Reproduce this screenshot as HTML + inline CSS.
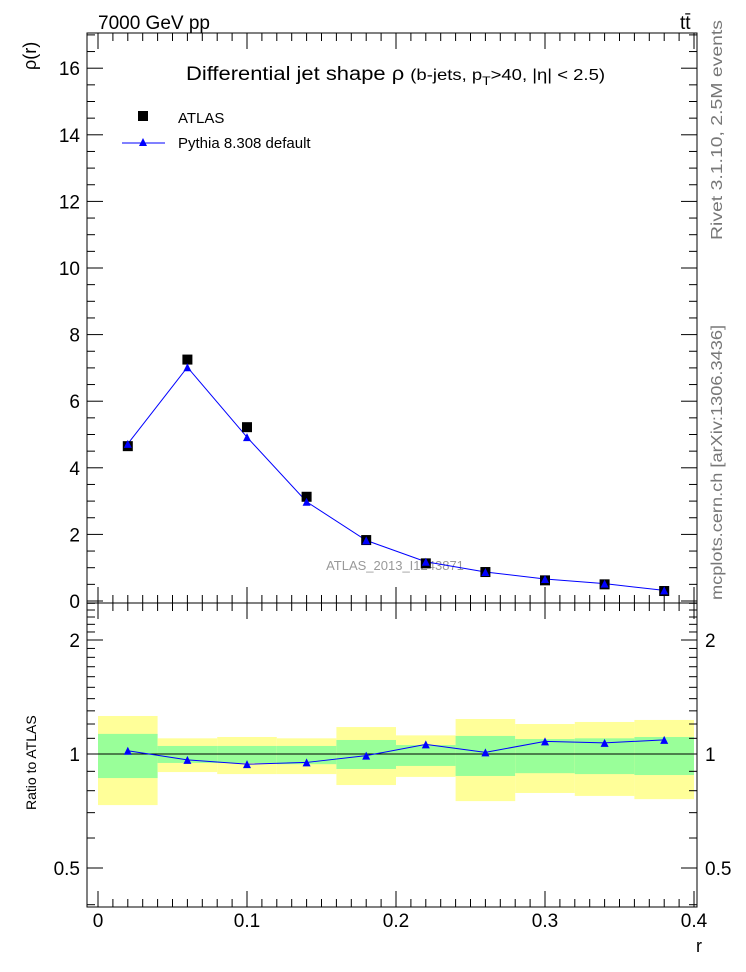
<!DOCTYPE html>
<html><head><meta charset="utf-8"><style>
body{margin:0;background:#fff;}
svg{font-family:"Liberation Sans",sans-serif;display:block;}
</style></head><body>
<svg id="c" width="746" height="972" viewBox="0 0 746 972">
<text x="98" y="29" font-size="19">7000 GeV pp</text>
<text x="680" y="29" font-size="19">tt̄</text>
<text x="186" y="80" font-size="19" textLength="419" lengthAdjust="spacingAndGlyphs">Differential jet shape  ρ <tspan font-size="16">(b-jets, p</tspan><tspan font-size="12" dy="5">T</tspan><tspan font-size="16" dy="-5">&gt;40, |η| &lt; 2.5)</tspan></text>
<text transform="translate(36,70) rotate(-90)" font-size="18">ρ(r)</text>
<text transform="translate(36,810) rotate(-90)" font-size="14">Ratio to ATLAS</text>
<text x="696" y="952" font-size="18">r</text>
<text transform="translate(722,240) rotate(-90)" font-size="16" fill="#777" textLength="220" lengthAdjust="spacingAndGlyphs">Rivet 3.1.10, 2.5M events</text>
<text transform="translate(722,600) rotate(-90)" font-size="16" fill="#777" textLength="275" lengthAdjust="spacingAndGlyphs">mcplots.cern.ch [arXiv:1306.3436]</text>
<text x="395" y="570" font-size="13" fill="#999" text-anchor="middle">ATLAS_2013_I1243871</text>
<rect x="138" y="111" width="10" height="10" fill="#000"/>
<text x="178" y="123" font-size="15">ATLAS</text>
<line x1="122" y1="143" x2="165" y2="143" stroke="#00f"/>
<polygon points="143,138 147,146 139,146" fill="#00f"/>
<text x="178" y="148" font-size="15">Pythia 8.308 default</text>
<g id="g"></g>
</svg>
<script>
const rCenters=[0.02,0.06,0.10,0.14,0.18,0.22,0.26,0.30,0.34,0.38];
const atlasVals=[4.65,7.25,5.22,3.13,1.83,1.13,0.87,0.62,0.50,0.30];
const pythiaVals=[4.72,7.02,4.92,2.98,1.82,1.18,0.87,0.66,0.52,0.32];
const ratioVals=[1.02,0.965,0.94,0.95,0.99,1.06,1.01,1.08,1.07,1.09];
const greenHi=[1.13,1.05,1.05,1.05,1.089,1.056,1.116,1.095,1.10,1.109];
const greenLo=[0.864,0.947,0.947,0.94,0.913,0.93,0.875,0.89,0.885,0.88];
const yellowHi=[1.26,1.10,1.109,1.10,1.178,1.12,1.237,1.20,1.215,1.23];
const yellowLo=[0.733,0.896,0.885,0.885,0.828,0.87,0.751,0.789,0.775,0.76];
const xTicks=[0,0.1,0.2,0.3,0.4];
const xTickLabels=["0","0.1","0.2","0.3","0.4"];
const yTicks=[0,2,4,6,8,10,12,14,16];
const ratioTicks=[0.5,1,2];
const ratioTickLabels=["0.5","1","2"];
const binHalf=0.02;

const X0=87,X1=697,MT=33,MB=603,RB=907;
const sx=r=>98+1490*r;
const sy=v=>601-33.3*v;
const ry=v=>754-114*Math.log2(v);
const g=document.getElementById('g');
const NS='http://www.w3.org/2000/svg';
function mk(t,a,name,p){const e=document.createElementNS(NS,t);for(const k in a)e.setAttribute(k,a[k]);


(p||g).appendChild(e);return e;}

rCenters.forEach((r,i)=>{
 mk('rect',{x:sx(r-binHalf),y:ry(yellowHi[i]),width:sx(r+binHalf)-sx(r-binHalf),height:ry(yellowLo[i])-ry(yellowHi[i]),fill:'#ffff99'},'syst-band');
 mk('rect',{x:sx(r-binHalf),y:ry(greenHi[i]),width:sx(r+binHalf)-sx(r-binHalf),height:ry(greenLo[i])-ry(greenHi[i]),fill:'#99ff99'},'stat-band');
});
mk('line',{x1:sx(0),x2:sx(0.4),y1:ry(1),y2:ry(1),stroke:'#000'},'ratio-unity-line');
mk('rect',{x:X0,y:MT,width:X1-X0,height:MB-MT,fill:'none',stroke:'#000'},'main-frame');
mk('rect',{x:X0,y:MB,width:X1-X0,height:RB-MB,fill:'none',stroke:'#000'},'ratio-frame');
for(let k=0;k<=40;k++){const r=k/100,x=sx(r),L=(k%10==0)?16:8;
 [[MB,-1],[MT,1],[RB,-1],[MB,1]].forEach(([y,d])=>mk('line',{x1:x,x2:x,y1:y,y2:y+d*L,stroke:'#000'},'x-tick'));}
xTicks.forEach((t,i)=>{const e=mk('text',{x:sx(t),y:RB+20,'font-size':19,'text-anchor':'middle'},'x-tick-label');e.textContent=xTickLabels[i];});
for(let v=0;v<=17;v+=0.5){const y=sy(v);if(y<MT)break;const L=(v%2==0)?16:8;
 mk('line',{x1:X0,x2:X0+L,y1:y,y2:y,stroke:'#000'},'y-tick');mk('line',{x1:X1,x2:X1-L,y1:y,y2:y,stroke:'#000'},'y-tick');}
yTicks.forEach(t=>{const e=mk('text',{x:80,y:sy(t)+7,'font-size':19,'text-anchor':'end'},'y-tick-label');e.textContent=String(t);});
for(let k=4;k<=25;k++){const v=k/10,y=ry(v);if(y<MB||y>RB)continue;const L=(k==5||k==10||k==20)?16:8;
 mk('line',{x1:X0,x2:X0+L,y1:y,y2:y,stroke:'#000'},'ratio-tick');mk('line',{x1:X1,x2:X1-L,y1:y,y2:y,stroke:'#000'},'ratio-tick');}
ratioTicks.forEach((t,i)=>{let e=mk('text',{x:80,y:ry(t)+7,'font-size':19,'text-anchor':'end'},'ratio-tick-label');e.textContent=ratioTickLabels[i];
 e=mk('text',{x:705,y:ry(t)+7,'font-size':19},'ratio-tick-label-right');e.textContent=ratioTickLabels[i];});
mk('polyline',{points:rCenters.map((r,i)=>sx(r)+','+sy(pythiaVals[i])).join(' '),fill:'none',stroke:'#00f'},'pythia-line');
rCenters.forEach((r,i)=>mk('rect',{x:sx(r)-5,y:sy(atlasVals[i])-5,width:10,height:10,fill:'#000'},'atlas-point'));
rCenters.forEach((r,i)=>{const x=sx(r),y=sy(pythiaVals[i]);mk('polygon',{points:`${x},${y-4} ${x+4},${y+4} ${x-4},${y+4}`,fill:'#00f'},'pythia-point');});
mk('polyline',{points:rCenters.map((r,i)=>sx(r)+','+ry(ratioVals[i])).join(' '),fill:'none',stroke:'#00f'},'ratio-line');
rCenters.forEach((r,i)=>{const x=sx(r),y=ry(ratioVals[i]);mk('polygon',{points:`${x},${y-4} ${x+4},${y+4} ${x-4},${y+4}`,fill:'#00f'},'ratio-point');});
</script>
</body></html>
